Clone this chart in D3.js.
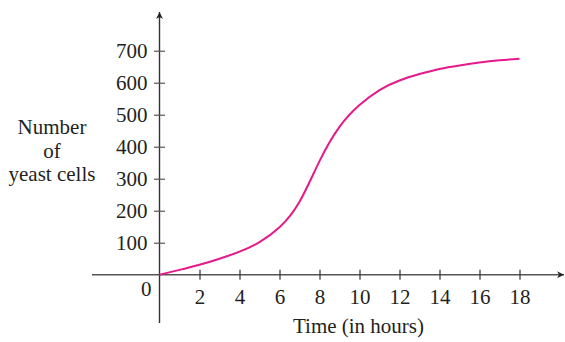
<!DOCTYPE html>
<html>
<head>
<meta charset="utf-8">
<script src="https://cdn.jsdelivr.net/npm/d3@7"></script>
<style>
  html, body { margin: 0; padding: 0; background: #fff; }
  svg { display: block; }
  text { font-family: "Liberation Serif", "Times New Roman", serif; fill: #231f20; }
</style>
</head>
<body>
<svg id="chart" width="565" height="342"></svg>
<script>
// Yeast population growth over time
const hours = [0, 1, 2, 3, 4, 5, 6, 7, 8, 9, 10, 11, 12, 13, 14, 15, 16, 17, 18];
const cells = [0, 15, 31, 50, 72, 102, 148, 228, 355, 462, 530, 577, 607, 627, 643, 654, 663, 670, 675];
const xTicks = [2, 4, 6, 8, 10, 12, 14, 16, 18];
const yTicks = [100, 200, 300, 400, 500, 600, 700];
const yTitle = ["Number", "of", "yeast cells"];
const xTitle = "Time (in hours)";

const svg = d3.select("#chart");
const fontSize = 21;

const x = d3.scaleLinear().domain([0, 18]).range([159.5, 519.5]);
const y = d3.scaleLinear().domain([0, 700]).range([274.7, 50.7]);

// arrowheads
const defs = svg.append("defs");
defs.append("marker")
  .attr("id", "arrow")
  .attr("viewBox", "0 0 10 10")
  .attr("refX", 10).attr("refY", 5)
  .attr("markerWidth", 7).attr("markerHeight", 7)
  .attr("markerUnits", "userSpaceOnUse")
  .attr("orient", "auto")
  .append("path")
  .attr("d", "M0,0 L10,5 L0,10 L3,5 Z")
  .attr("fill", "#222");

// x axis line
svg.append("line")
  .attr("x1", 92).attr("x2", 564)
  .attr("y1", y(0)).attr("y2", y(0))
  .attr("stroke", "#555").attr("stroke-width", 1.6)
  .attr("marker-end", "url(#arrow)");

// y axis line
svg.append("line")
  .attr("x1", x(0)).attr("x2", x(0))
  .attr("y1", 323).attr("y2", 12)
  .attr("stroke", "#333").attr("stroke-width", 1.4)
  .attr("marker-end", "url(#arrow)");

// x ticks
const xAxis = d3.axisBottom(x).tickValues(xTicks).tickSize(0).tickFormat(d3.format("d"));
const gx = svg.append("g").attr("transform", `translate(0,${y(0)})`).call(xAxis);
gx.select(".domain").remove();
gx.selectAll(".tick").append("line")
  .attr("y1", -5).attr("y2", 5)
  .attr("stroke", "#333").attr("stroke-width", 1.2);
gx.selectAll(".tick text")
  .attr("y", 29.5).attr("dy", null)
  .attr("font-size", fontSize).attr("font-family", "Liberation Serif").attr("fill", "#231f20");

// y ticks
const yAxis = d3.axisLeft(y).tickValues(yTicks).tickSize(0).tickFormat(d3.format("d"));
const gy = svg.append("g").attr("transform", `translate(${x(0)},0)`).call(yAxis);
gy.select(".domain").remove();
gy.selectAll(".tick").append("line")
  .attr("x1", -5.5).attr("x2", 5.5)
  .attr("stroke", "#555").attr("stroke-width", 1.2);
gy.selectAll(".tick text")
  .attr("x", -12).attr("dy", "0.34em")
  .attr("font-size", fontSize).attr("font-family", "Liberation Serif").attr("fill", "#231f20");

// origin label
svg.append("text")
  .attr("x", x(0) - 8).attr("y", 296)
  .attr("text-anchor", "end").attr("font-size", fontSize)
  .text("0");

// axis titles
svg.append("text")
  .attr("x", 358.5).attr("y", 333)
  .attr("text-anchor", "middle").attr("font-size", fontSize)
  .text(xTitle);

svg.append("g").selectAll("text")
  .data(yTitle).join("text")
  .attr("x", 52).attr("y", (d, i) => 134 + i * 23.5)
  .attr("text-anchor", "middle").attr("font-size", fontSize)
  .text(d => d);

// growth curve
const line = d3.line()
  .x((d, i) => x(hours[i]))
  .y(d => y(d))
  .curve(d3.curveNatural);

svg.append("path")
  .datum(cells)
  .attr("d", line)
  .attr("fill", "none")
  .attr("stroke", "#e6198a")
  .attr("stroke-width", 2);
</script>
</body>
</html>
